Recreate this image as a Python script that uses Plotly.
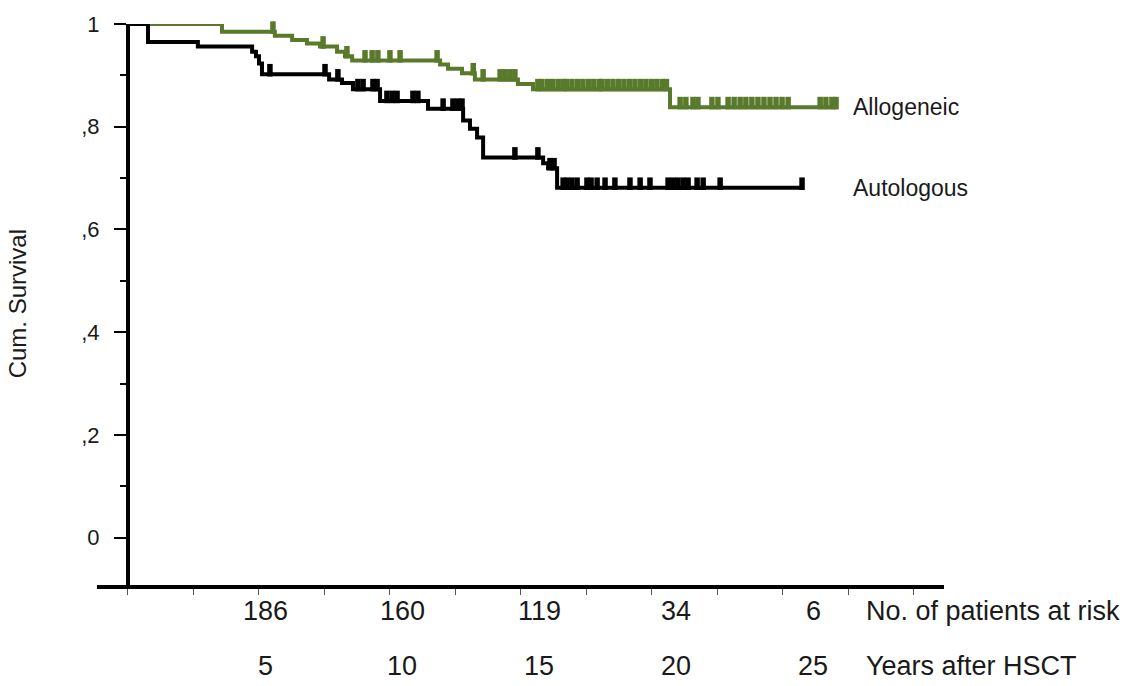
import numpy as np
import plotly.graph_objects as go

# ---- data (years after HSCT, cumulative survival) ----
allo_times = [3.43, 5.36, 5.99, 6.53, 7.01, 7.63, 7.92, 8.18, 11.39, 11.68, 12.19, 12.66, 14.23, 14.78, 19.78]
allo_surv = [0.985, 0.977, 0.969, 0.962, 0.956, 0.946, 0.937, 0.929, 0.921, 0.913, 0.904, 0.892, 0.883, 0.873, 0.838]
allo_end = 25.88
allo_censor = [1.46, 3.39, 5.29, 7.12, 7.99, 8.65, 8.91, 9.12, 9.56, 9.93, 11.28, 12.6, 12.96,
               13.58, 13.76, 13.94, 14.12, 14.96, 15.1, 15.3, 15.5, 15.7, 15.9, 16.0, 16.2, 16.4,
               16.6, 16.8, 17.0, 17.2, 17.3, 17.5, 17.7, 17.9, 18.1, 18.3, 18.5, 18.7, 18.9, 19.1,
               19.3, 19.5, 19.65, 20.15, 20.36, 20.62, 20.8, 21.31, 21.53, 21.9, 22.12, 22.34,
               22.55, 22.77, 22.99, 23.21, 23.43, 23.65, 23.87, 24.09, 25.26, 25.47, 25.69, 25.84]

auto_times = [0.73, 2.55, 4.53, 4.67, 4.78, 4.89, 7.34, 7.81, 8.21, 9.2, 10.95, 12.23, 12.48, 12.74, 12.96, 15.15, 15.33, 15.66]
auto_surv = [0.965, 0.956, 0.946, 0.937, 0.923, 0.902, 0.892, 0.885, 0.873, 0.85, 0.835, 0.812, 0.796, 0.779, 0.74, 0.729, 0.719, 0.681]
auto_end = 24.64
auto_censor = [5.18, 7.19, 7.66, 8.39, 8.58, 8.94, 9.09, 9.45, 9.64, 9.82, 10.4, 10.58, 11.5, 11.86,
               12.04, 12.19, 14.12, 14.96, 15.4, 15.55, 15.88, 16.02, 16.2, 16.39, 16.75, 16.9,
               17.12, 17.41, 17.77, 18.32, 18.69, 19.05, 19.71, 19.89, 20.07, 20.26, 20.44, 20.77,
               20.99, 21.61, 24.6]

years = [5, 10, 15, 20, 25]
at_risk = ["186", "160", "119", "34", "6"]
y_tickvals = [0, 0.2, 0.4, 0.6, 0.8, 1.0]
y_ticktext = ["0", ",2", ",4", ",6", ",8", "1"]

GREEN = "#5a7a2b"
BLACK = "#000000"
TEXT = "#1a1a1a"
FONT = "Liberation Sans, Arial, sans-serif"


def step_xy(times, surv, end):
    xs = [0.0] + list(times) + [end]
    ys = [1.0] + list(surv) + [surv[-1]]
    return xs, ys


def surv_at(times, surv, t):
    t = np.asarray(t)
    idx = np.searchsorted(np.asarray(times), t, side="right")
    vals = np.concatenate([[1.0], np.asarray(surv)])
    return vals[idx]


fig = go.Figure()
bump = 0.008
for times, surv, end, cens, col, name in [
    (allo_times, allo_surv, allo_end, allo_censor, GREEN, "Allogeneic"),
    (auto_times, auto_surv, auto_end, auto_censor, BLACK, "Autologous"),
]:
    xs, ys = step_xy(times, surv, end)
    fig.add_trace(go.Scatter(x=xs, y=ys, mode="lines", line=dict(color=col, width=4, shape="hv"),
                             cliponaxis=False, showlegend=False, name=name))
    cy = surv_at(times, surv, cens) + bump
    fig.add_trace(go.Scatter(x=cens, y=cy, mode="markers", cliponaxis=False, showlegend=False,
                             marker=dict(symbol="line-ns", size=9, color=col,
                                         line=dict(color=col, width=5.5))))
    fig.add_annotation(x=allo_end, y=surv[-1], xref="x", yref="y", text=name, showarrow=False,
                       xanchor="left", yanchor="middle", xshift=14,
                       font=dict(family=FONT, size=23, color=TEXT))

# bottom rows: patients at risk and years
ROW1, ROW2 = -0.046, -0.145
for yr, n in zip(years, at_risk):
    fig.add_annotation(x=yr, y=ROW1, xref="x", yref="paper", text=n, showarrow=False,
                       xanchor="center", yanchor="middle", font=dict(family=FONT, size=27, color=TEXT))
    fig.add_annotation(x=yr, y=ROW2, xref="x", yref="paper", text=str(yr), showarrow=False,
                       xanchor="center", yanchor="middle", font=dict(family=FONT, size=27, color=TEXT))
fig.add_annotation(x=years[-1], y=ROW1, xref="x", yref="paper", text="No. of patients at risk",
                   showarrow=False, xanchor="left", yanchor="middle", xshift=51,
                   font=dict(family=FONT, size=27, color=TEXT))
fig.add_annotation(x=years[-1], y=ROW2, xref="x", yref="paper", text="Years after HSCT",
                   showarrow=False, xanchor="left", yanchor="middle", xshift=51,
                   font=dict(family=FONT, size=27, color=TEXT))
fig.add_annotation(x=-0.0945, y=0.502, xref="paper", yref="paper", text="Cum. Survival",
                   showarrow=False, textangle=-90, xanchor="center", yanchor="middle",
                   font=dict(family=FONT, size=24, color=TEXT))

fig.update_layout(
    width=1127, height=686,
    margin=dict(l=97, r=183, t=17, b=101),
    paper_bgcolor="white", plot_bgcolor="white",
    font=dict(family=FONT, color=TEXT),
    xaxis=dict(range=[-1.131, 29.78], showgrid=False, zeroline=False, showline=True,
               linecolor="black", linewidth=4, ticks="outside", ticklen=6, tickwidth=1,
               tickcolor="#555", tick0=0, dtick=2.39, showticklabels=False),
    yaxis=dict(range=[-0.0923, 1.0], showgrid=False, zeroline=False, showline=True,
               linecolor="black", linewidth=4, anchor="free", position=0.0366,
               ticks="outside", ticklen=12, tickwidth=2, tickcolor="black",
               tickvals=y_tickvals, ticktext=y_ticktext, ticklabelstandoff=10,
               tickfont=dict(family=FONT, size=22, color=TEXT),
               minor=dict(dtick=0.1, tick0=0, ticks="outside", ticklen=6, tickwidth=2, tickcolor="black")),
)

fig.write_html("out.html", config={"displayModeBar": False},
               post_script="document.body.style.margin='0px';")
